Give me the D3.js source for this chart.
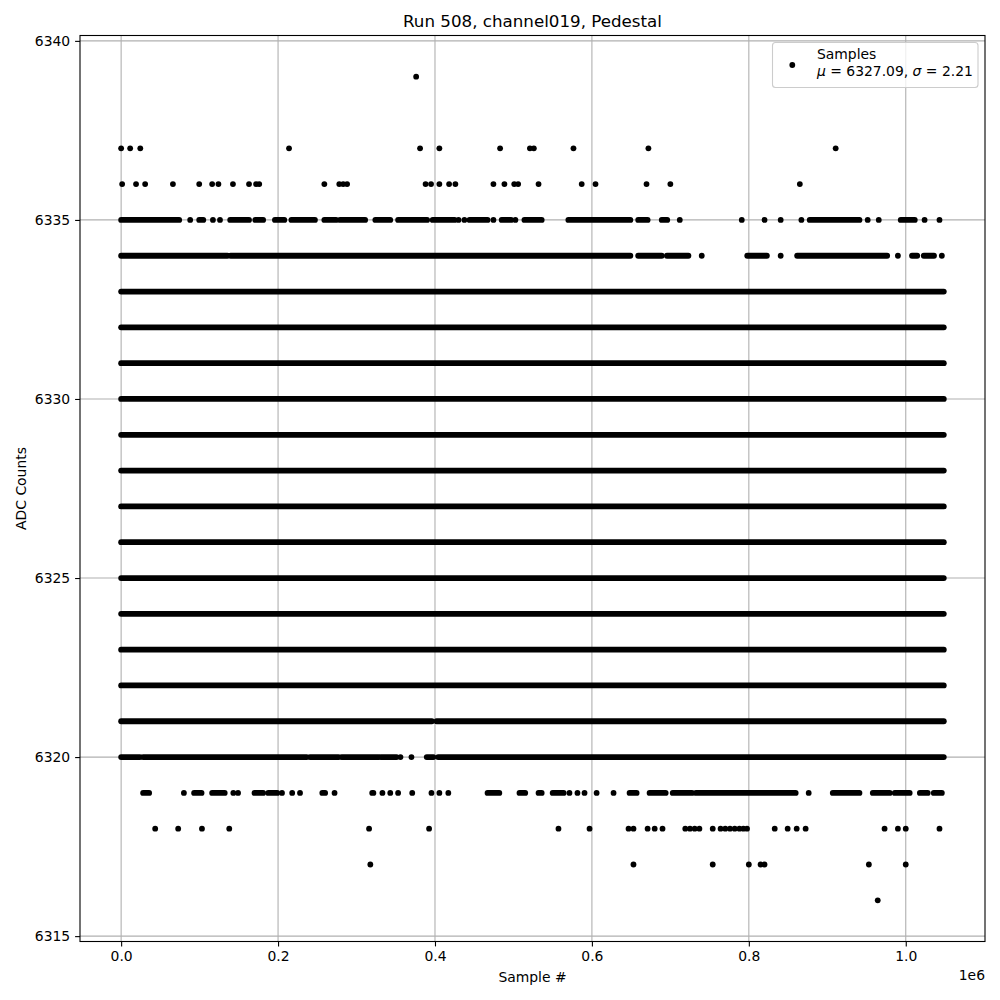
<!DOCTYPE html>
<html>
<head>
<meta charset="utf-8">
<script src="https://cdn.jsdelivr.net/npm/d3@7"></script>
<style>
  body { margin: 0; background: #fff; }
  svg { font-family: "DejaVu Sans", sans-serif; }
</style>
</head>
<body>
<svg id="chart" width="1000" height="1000"></svg>
<script>
// sample positions are in thousands of samples
const dataEnd = 1048.5;

// continuous bands of samples: [adc, from, to]
const runs = [
  [6335, 0, 74], [6335, 99.5, 104.7], [6335, 139, 163], [6335, 171, 181], [6335, 196, 208],
  [6335, 217, 247], [6335, 259, 274], [6335, 279, 311], [6335, 324, 343], [6335, 353, 390],
  [6335, 397, 425], [6335, 444, 467], [6335, 485, 497], [6335, 514, 536], [6335, 570, 649],
  [6335, 659, 671], [6335, 689, 696], [6335, 877.6, 941], [6335, 993.6, 1011.5],
  [6334, 0, 135.5], [6334, 139.5, 649], [6334, 659, 689], [6334, 695.6, 723], [6334, 798, 823],
  [6334, 861.6, 976.3], [6334, 1008, 1014.6], [6334, 1023, 1036],
  [6333, 0, dataEnd], [6332, 0, dataEnd], [6331, 0, dataEnd], [6330, 0, dataEnd],
  [6329, 0, dataEnd], [6328, 0, dataEnd], [6327, 0, dataEnd], [6326, 0, dataEnd],
  [6325, 0, dataEnd], [6324, 0, dataEnd], [6323, 0, dataEnd], [6322, 0, dataEnd],
  [6321, 0, 396], [6321, 402, dataEnd],
  [6320, 0, 24], [6320, 28, 236.5], [6320, 240.7, 277], [6320, 281, 328], [6320, 331, 351],
  [6320, 389.5, 398], [6320, 404, dataEnd],
  [6319, 28, 35.7], [6319, 93, 102.5], [6319, 116, 132], [6319, 170, 181], [6319, 187.5, 199],
  [6319, 256.4, 260], [6319, 320, 321.5], [6319, 467, 482], [6319, 507.7, 515], [6319, 532, 536],
  [6319, 550, 564], [6319, 648, 657], [6319, 673.5, 694], [6319, 703, 727.6], [6319, 732.6, 859.7],
  [6319, 907, 941], [6319, 958, 979.6], [6319, 986, 1005], [6319, 1018, 1028], [6319, 1035.7, 1046]
];

// isolated samples: [adc, positions]
const dots = [
  [6339, [376]],
  [6337, [0, 11.5, 24.4, 214, 381, 405.6, 483, 521, 526, 576.5, 672, 910.7]],
  [6336, [1.3, 19, 30.6, 66, 99.5, 116, 124, 142.5, 163, 172, 176, 259, 278, 283, 288, 388, 395,
          405.6, 418, 426, 474.5, 488.5, 501, 506, 532, 587, 604.6, 669.6, 700, 865]],
  [6335, [88, 117, 126, 430, 437.5, 474.5, 502.5, 712, 791, 820, 840.6, 867, 951.5, 965.6, 1024, 1043]],
  [6334, [740, 840.6, 990, 1046]],
  [6320, [356, 370]],
  [6319, [80, 143, 149, 205, 218, 228, 272, 333, 343, 353, 371, 395.5, 405.6, 417, 571.4, 581.6,
          590.6, 606, 627.6, 876.3]],
  [6318, [43.4, 72.7, 103, 137.8, 316, 392.5, 557.4, 597, 646.7, 653, 671, 680, 690, 719, 725, 731,
          737, 754, 764, 770, 776, 782, 788, 793, 797.7, 833, 849.5, 861, 872.4, 973, 990, 1000, 1043]],
  [6317, [317.6, 653, 754, 800, 815, 820, 953, 1000]],
  [6316, [964.3]]
];

const xTicks = [0, 200000, 400000, 600000, 800000, 1000000];
const yTicks = [6315, 6320, 6325, 6330, 6335, 6340];
const meanVal = 6327.09;
const sigmaVal = 2.21;

const plotL = 80, plotR = 985, plotT = 35.5, plotB = 941.5;
const svg = d3.select("#chart");

const x = d3.scaleLinear().domain([-52428.75, 1101003.75]).range([plotL, plotR]);
const y = d3.scaleLinear().domain([6314.85, 6340.15]).range([plotB, plotT]);

// grid
let grid = svg.append("g");
grid.selectAll(".gx").data(xTicks).join("line").attr("class", "gx")
  .attr("x1", d => x(d)).attr("x2", d => x(d))
  .attr("y1", plotT).attr("y2", plotB);
grid.selectAll(".gy").data(yTicks).join("line").attr("class", "gy")
  .attr("y1", d => y(d)).attr("y2", d => y(d))
  .attr("x1", plotL).attr("x2", plotR);
grid.selectAll("line").attr("stroke", "#b0b0b0").attr("stroke-width", 1.1);

// samples
let marks = svg.append("g");
marks.selectAll("line").data(runs).join("line")
  .attr("x1", d => x(d[1] * 1000)).attr("x2", d => x(d[2] * 1000))
  .attr("y1", d => y(d[0])).attr("y2", d => y(d[0]))
  .attr("stroke", "#000").attr("stroke-width", 5.8).attr("stroke-linecap", "round");

let flat = [];
dots.forEach(([adc, xs]) => xs.forEach(v => flat.push({ adc: adc, s: v * 1000 })));
marks.selectAll("circle").data(flat).join("circle")
  .attr("cx", d => x(d.s)).attr("cy", d => y(d.adc))
  .attr("r", 2.9).attr("fill", "#000");

// axes
let xAxis = d3.axisBottom(x).tickValues(xTicks).tickSize(4.9).tickPadding(4.9)
  .tickFormat(d => (d / 1e6).toFixed(1));
let yAxis = d3.axisLeft(y).tickValues(yTicks).tickSize(4.9).tickPadding(4.9)
  .tickFormat(d3.format("d"));

let gx = svg.append("g").attr("transform", `translate(0,${plotB})`).call(xAxis);
let gy = svg.append("g").attr("transform", `translate(${plotL},0)`).call(yAxis);
[gx, gy].forEach(g => {
  g.select(".domain").remove();
  g.selectAll("line").attr("stroke", "#000").attr("stroke-width", 1.1);
  g.selectAll("text").attr("fill", "#000")
    .style("font-family", "DejaVu Sans").style("font-size", "13.9px");
});

svg.append("rect")
  .attr("x", plotL).attr("y", plotT)
  .attr("width", plotR - plotL).attr("height", plotB - plotT)
  .attr("fill", "none").attr("stroke", "#000").attr("stroke-width", 1.1);

// labels
svg.append("text").attr("x", (plotL + plotR) / 2).attr("y", 27)
  .attr("text-anchor", "middle").style("font-size", "16.7px")
  .text("Run 508, channel019, Pedestal");
svg.append("text").attr("x", (plotL + plotR) / 2).attr("y", 982)
  .attr("text-anchor", "middle").style("font-size", "13.9px")
  .text("Sample #");
svg.append("text").attr("x", plotR).attr("y", 980)
  .attr("text-anchor", "end").style("font-size", "13.9px")
  .text("1e6");
svg.append("text")
  .attr("transform", `translate(26,${(plotT + plotB) / 2}) rotate(-90)`)
  .attr("text-anchor", "middle").style("font-size", "13.9px")
  .text("ADC Counts");

// legend
let legend = svg.append("g");
legend.append("rect")
  .attr("x", 772.5).attr("y", 42.5).attr("width", 205.5).attr("height", 45)
  .attr("rx", 3).attr("fill", "#fff").attr("fill-opacity", 0.8)
  .attr("stroke", "#cccccc").attr("stroke-width", 1.1);
legend.append("circle").attr("cx", 792.3).attr("cy", 65).attr("r", 2.9).attr("fill", "#000");
legend.append("text").attr("x", 817).attr("y", 59).style("font-size", "13.9px").text("Samples");
let stat = legend.append("text").attr("x", 817).attr("y", 76).style("font-size", "13.9px");
stat.append("tspan").style("font-style", "italic").text("μ");
stat.append("tspan").text(` = ${meanVal.toFixed(2)}, `);
stat.append("tspan").style("font-style", "italic").text("σ");
stat.append("tspan").text(` = ${sigmaVal.toFixed(2)}`);
</script>
</body>
</html>
